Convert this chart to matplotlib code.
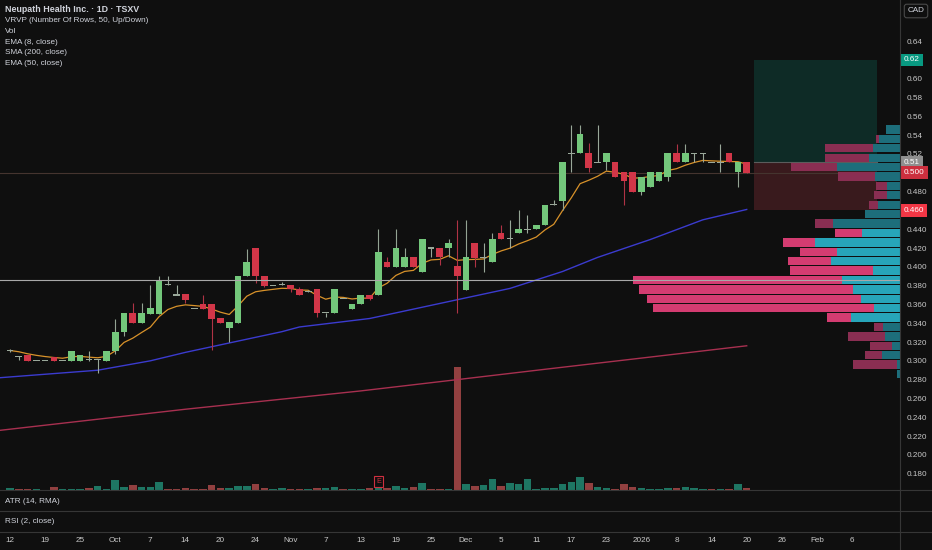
import numpy as np
import pandas as pd
import matplotlib
matplotlib.use("Agg")
import matplotlib.pyplot as plt
from matplotlib.transforms import blended_transform_factory
from matplotlib.patches import Rectangle
from matplotlib.lines import Line2D

plt.rcParams['font.family'] = ['Liberation Sans Narrow', 'Liberation Sans', 'DejaVu Sans']

# daily candles (CAD)
opens = [0.311, 0.305, 0.306, 0.300, 0.300, 0.304, 0.300, 0.300, 0.300, 0.301,
         0.301, 0.300, 0.310, 0.331, 0.351, 0.340, 0.350, 0.350, 0.381, 0.370,
         0.371, 0.356, 0.360, 0.360, 0.346, 0.335, 0.340, 0.390, 0.420, 0.390,
         0.380, 0.381, 0.381, 0.376, 0.374, 0.376, 0.351, 0.351, 0.366, 0.355,
         0.360, 0.370, 0.370, 0.405, 0.400, 0.400, 0.410, 0.395, 0.420, 0.420,
         0.420, 0.401, 0.375, 0.425, 0.410, 0.405, 0.436, 0.430, 0.436, 0.440,
         0.440, 0.445, 0.466, 0.470, 0.521, 0.521, 0.521, 0.511, 0.511, 0.511,
         0.501, 0.501, 0.480, 0.485, 0.491, 0.496, 0.521, 0.511, 0.521, 0.521,
         0.511, 0.511, 0.521, 0.501, 0.511]
highs = [0.313, 0.305, 0.306, 0.300, 0.300, 0.304, 0.300, 0.310, 0.306, 0.310,
         0.302, 0.310, 0.345, 0.351, 0.361, 0.361, 0.381, 0.390, 0.390, 0.381,
         0.371, 0.356, 0.370, 0.360, 0.346, 0.341, 0.390, 0.419, 0.420, 0.390,
         0.380, 0.384, 0.381, 0.378, 0.375, 0.376, 0.351, 0.376, 0.366, 0.360,
         0.370, 0.370, 0.440, 0.410, 0.440, 0.420, 0.410, 0.430, 0.420, 0.420,
         0.430, 0.450, 0.450, 0.425, 0.425, 0.436, 0.445, 0.450, 0.460, 0.455,
         0.445, 0.466, 0.471, 0.511, 0.551, 0.551, 0.532, 0.551, 0.521, 0.511,
         0.501, 0.501, 0.496, 0.501, 0.501, 0.521, 0.531, 0.531, 0.521, 0.521,
         0.511, 0.531, 0.521, 0.511, 0.511]
lows = [0.309, 0.301, 0.300, 0.300, 0.300, 0.300, 0.300, 0.300, 0.300, 0.300,
        0.287, 0.300, 0.307, 0.326, 0.340, 0.340, 0.350, 0.350, 0.381, 0.370,
        0.361, 0.356, 0.355, 0.311, 0.340, 0.320, 0.340, 0.390, 0.383, 0.378,
        0.380, 0.381, 0.373, 0.370, 0.373, 0.347, 0.347, 0.351, 0.366, 0.355,
        0.360, 0.365, 0.370, 0.400, 0.400, 0.400, 0.400, 0.395, 0.410, 0.402,
        0.410, 0.351, 0.375, 0.400, 0.395, 0.405, 0.430, 0.420, 0.436, 0.436,
        0.440, 0.445, 0.466, 0.460, 0.501, 0.521, 0.501, 0.511, 0.503, 0.496,
        0.466, 0.480, 0.476, 0.485, 0.491, 0.491, 0.511, 0.511, 0.511, 0.511,
        0.511, 0.501, 0.511, 0.485, 0.500]
closes = [0.311, 0.305, 0.300, 0.300, 0.300, 0.300, 0.300, 0.310, 0.306, 0.301,
          0.301, 0.310, 0.331, 0.351, 0.340, 0.351, 0.356, 0.386, 0.381, 0.370,
          0.365, 0.356, 0.355, 0.345, 0.340, 0.341, 0.390, 0.405, 0.390, 0.380,
          0.380, 0.381, 0.376, 0.370, 0.374, 0.351, 0.351, 0.376, 0.366, 0.360,
          0.370, 0.366, 0.416, 0.400, 0.420, 0.410, 0.400, 0.430, 0.420, 0.410,
          0.425, 0.390, 0.410, 0.409, 0.410, 0.430, 0.430, 0.430, 0.440, 0.440,
          0.445, 0.466, 0.466, 0.511, 0.521, 0.541, 0.505, 0.511, 0.521, 0.496,
          0.491, 0.480, 0.496, 0.501, 0.501, 0.521, 0.511, 0.521, 0.521, 0.521,
          0.511, 0.511, 0.511, 0.511, 0.500]
# volume, thousands of shares (estimated)
volume = [17, 13, 10, 7, 5, 27, 10, 7, 7, 23,
          43, 10, 100, 33, 50, 33, 33, 83, 10, 10,
          17, 7, 13, 50, 17, 17, 43, 43, 57, 20,
          7, 17, 13, 13, 10, 17, 17, 30, 7, 10,
          10, 23, 27, 23, 40, 17, 27, 73, 7, 13,
          13, 1230, 63, 40, 50, 113, 40, 73, 60, 107,
          13, 17, 17, 60, 80, 133, 73, 33, 20, 10,
          63, 33, 17, 10, 10, 17, 17, 33, 23, 10,
          13, 10, 10, 57, 23]

# long moving averages (history starts before the visible range)
ema50_idx = [-1.2, 10, 16, 20, 25, 31, 33, 41, 47, 57, 63, 67, 73, 79, 84]
ema50_val = [0.282, 0.290, 0.300, 0.309, 0.319, 0.331, 0.336, 0.345, 0.357,
             0.377, 0.395, 0.410, 0.429, 0.450, 0.461]
sma200_idx = [-1.2, 20, 40, 51, 61, 73, 84]
sma200_val = [0.226, 0.2485, 0.268, 0.280, 0.291, 0.304, 0.316]

# visible range volume profile, 0.01 rows from 0.281 upward
vp_bottom = 0.281
vp_step = 0.01
vp_up = [3.3, 3.3, 17.7, 7.7, 15.3, 16.7, 49.3, 26, 39.3, 46.7, 57.7, 26.7, 69.3, 63.3,
         85.3, 37.7, 66.7, 35.3, 22, 13.3, 13.3, 25.3, 63.3, 31, 27, 21, 13.7]
vp_down = [0, 43.7, 17.7, 22.3, 36.7, 9.3, 24, 221.3, 214, 214.7, 209.7, 83.3, 42.3, 37,
           31.7, 27.7, 18.7, 0, 9, 12.7, 11, 36.7, 46, 44.3, 48.3, 3.3, 0]
value_area_rows = range(6, 16)

# x axis labels, every 4th bar
tick_idx = list(range(0, 101, 4))
tick_lab = ['12', '19', '25', 'Oct', '7', '14', '20', '24', 'Nov', '7', '13', '19', '25',
            'Dec', '5', '11', '17', '23', '2026', '8', '14', '20', '26', 'Feb', '6']
price_ticks = [0.64, 0.60, 0.58, 0.56, 0.54, 0.52, 0.48, 0.44, 0.42, 0.40, 0.38, 0.36,
               0.34, 0.32, 0.30, 0.28, 0.26, 0.24, 0.22, 0.20, 0.18]

# long position tool
pos_entry, pos_target, pos_stop = 0.511, 0.62, 0.46
pos_x0, pos_x1 = 84.8, 98.9
hline_price = 0.386
last_price = 0.500
earnings_bar = 42

bg = '#0f0f0f'
txt = '#d1d4dc'
up_col, dn_col = '#73c77b', '#d23648'
fs = 5.9

fig = plt.figure(figsize=(9.32, 5.5), dpi=100, facecolor=bg)
rect = [0, 60 / 550, 900 / 932, 490 / 550]
xlim = (-1.14, 101.48)
ylim = (0.1626, 0.6838)

# volume pane (under everything)
axv = fig.add_axes(rect)
axv.set_facecolor(bg)
x = np.arange(len(closes))
o, h, l, c = map(np.array, (opens, highs, lows, closes))
prev = np.r_[c[0], c[:-1]]
is_up = (c > o) | ((np.abs(c - o) < 1e-9) & (c >= prev))
axv.bar(x, volume, width=0.86, color=np.where(is_up, '#1e7663', '#924040'))
axv.set_xlim(xlim)
axv.set_ylim(0, 4900)
axv.axis('off')

ax = fig.add_axes(rect)
ax.set_facecolor('none')
ax.set_xlim(xlim)
ax.set_ylim(ylim)
for s in ax.spines.values():
    s.set_visible(False)

ax.add_patch(Rectangle((pos_x0, pos_entry), pos_x1 - pos_x0, pos_target - pos_entry,
                       fc='#0e2b26', ec='none', zorder=0))
ax.add_patch(Rectangle((pos_x0, pos_stop), pos_x1 - pos_x0, pos_entry - pos_stop,
                       fc='#391a1d', ec='none', zorder=0))
ax.plot([pos_x0, pos_x1], [pos_entry, pos_entry], color='#5c5c5c', lw=0.8, zorder=1)
ax.axhline(last_price, color='#45342f', lw=0.8, zorder=1)

ax.plot(sma200_idx, sma200_val, color='#a83050', lw=1.0, zorder=2)
ax.plot(ema50_idx, ema50_val, color='#3b3bcf', lw=1.0, zorder=2)
ema8 = pd.Series(closes).ewm(span=8, adjust=False).mean()
ax.plot(x, ema8, color='#d8922a', lw=0.9, zorder=2)

doji = np.abs(c - o) < 1e-9
wick_col = np.where(doji, '#9aa89a', np.where(is_up, '#93a393', '#b03345'))
ax.vlines(x, l, h, colors=wick_col, lw=0.8, zorder=3)
body_lo = np.minimum(o, c)
body_h = np.maximum(np.abs(c - o), 0.0011)
body_lo = np.where(doji, o - 0.00055, body_lo)
body_col = np.where(doji, '#9aa89a', np.where(c > o, up_col, dn_col))
ax.bar(x, body_h, bottom=body_lo, width=0.76, color=body_col, zorder=4)

ax.text(earnings_bar, 0.1718, 'E', color='#d03040', fontsize=5.2, ha='center', va='center',
        zorder=5, bbox=dict(boxstyle='square,pad=0.25', fc=bg, ec='#d03040', lw=0.8))

ax.set_xticks([])
ax.yaxis.tick_right()
ax.set_yticks(price_ticks)
ax.set_yticklabels([f'{p:.2f}' if p >= 0.5 else f'{p:.3f}' for p in price_ticks])
ax.tick_params(axis='y', length=0, pad=5, labelsize=fs, colors='#c8c8c8')

# volume profile overlay
axp = fig.add_axes(rect, sharey=ax)
axp.set_facecolor('none')
axp.set_xlim(900, 0)
axp.axis('off')
rows = vp_bottom + vp_step * np.arange(len(vp_up)) + vp_step / 2
bright = np.isin(np.arange(len(vp_up)), list(value_area_rows))
axp.barh(rows, vp_up, height=0.0088, left=0,
         color=np.where(bright, '#27a5b9', '#1d6e7b'))
axp.barh(rows, vp_down, height=0.0088, left=vp_up,
         color=np.where(bright, '#d43c71', '#8a2e52'))
axp.axhline(hline_price, color='#a8a8a8', lw=0.8)

# price labels on the scale
tr = blended_transform_factory(ax.transAxes, ax.transData)
for p, lab, fc in [(pos_target, '0.62', '#089981'), (pos_entry, '0.51', '#8f8f8f'),
                   (last_price, '0.500', '#cc2f3e'), (pos_stop, '0.460', '#f23645')]:
    ax.text(1.0 + 4 / 900, p, lab, transform=tr, fontsize=fs, color='white',
            ha='left', va='center', zorder=6,
            bbox=dict(boxstyle='square,pad=0.35', fc=fc, ec='none'))

# x labels under the lower panes
trx = blended_transform_factory(ax.transData, fig.transFigure)
for i, lab in zip(tick_idx, tick_lab):
    ax.text(i, 1 - 541 / 550, lab, transform=trx, fontsize=fs, color='#c8c8c8',
            ha='center', va='center', clip_on=False)

# pane separators and headers
for yp in (490, 511, 532):
    fig.add_artist(Line2D([0, 1], [1 - yp / 550] * 2, color='#363636', lw=0.8))
fig.add_artist(Line2D([900 / 932] * 2, [0, 1], color='#363636', lw=0.8))
fig.text(5 / 932, 1 - 501.5 / 550, 'ATR (14, RMA)', fontsize=fs, color=txt, va='center')
fig.text(5 / 932, 1 - 521.5 / 550, 'RSI (2, close)', fontsize=fs, color=txt, va='center')

legend = ['VRVP (Number Of Rows, 50, Up/Down)', 'Vol', 'EMA (8, close)',
          'SMA (200, close)', 'EMA (50, close)']
fig.text(5 / 932, 1 - 10 / 550, 'Neupath Health Inc. · 1D · TSXV', fontsize=6.4,
         fontweight='bold', color=txt, va='center')
for k, s in enumerate(legend):
    fig.text(5 / 932, 1 - (21 + 10.6 * k) / 550, s, fontsize=fs, color=txt, va='center')

fig.text(916 / 932, 1 - 11 / 550, 'CAD', fontsize=fs, color=txt, ha='center', va='center',
         bbox=dict(boxstyle='round,pad=0.4,rounding_size=0.3', fc=bg, ec='#4a4a4a', lw=0.8))

fig.savefig('out.png', dpi=100, facecolor=bg)
